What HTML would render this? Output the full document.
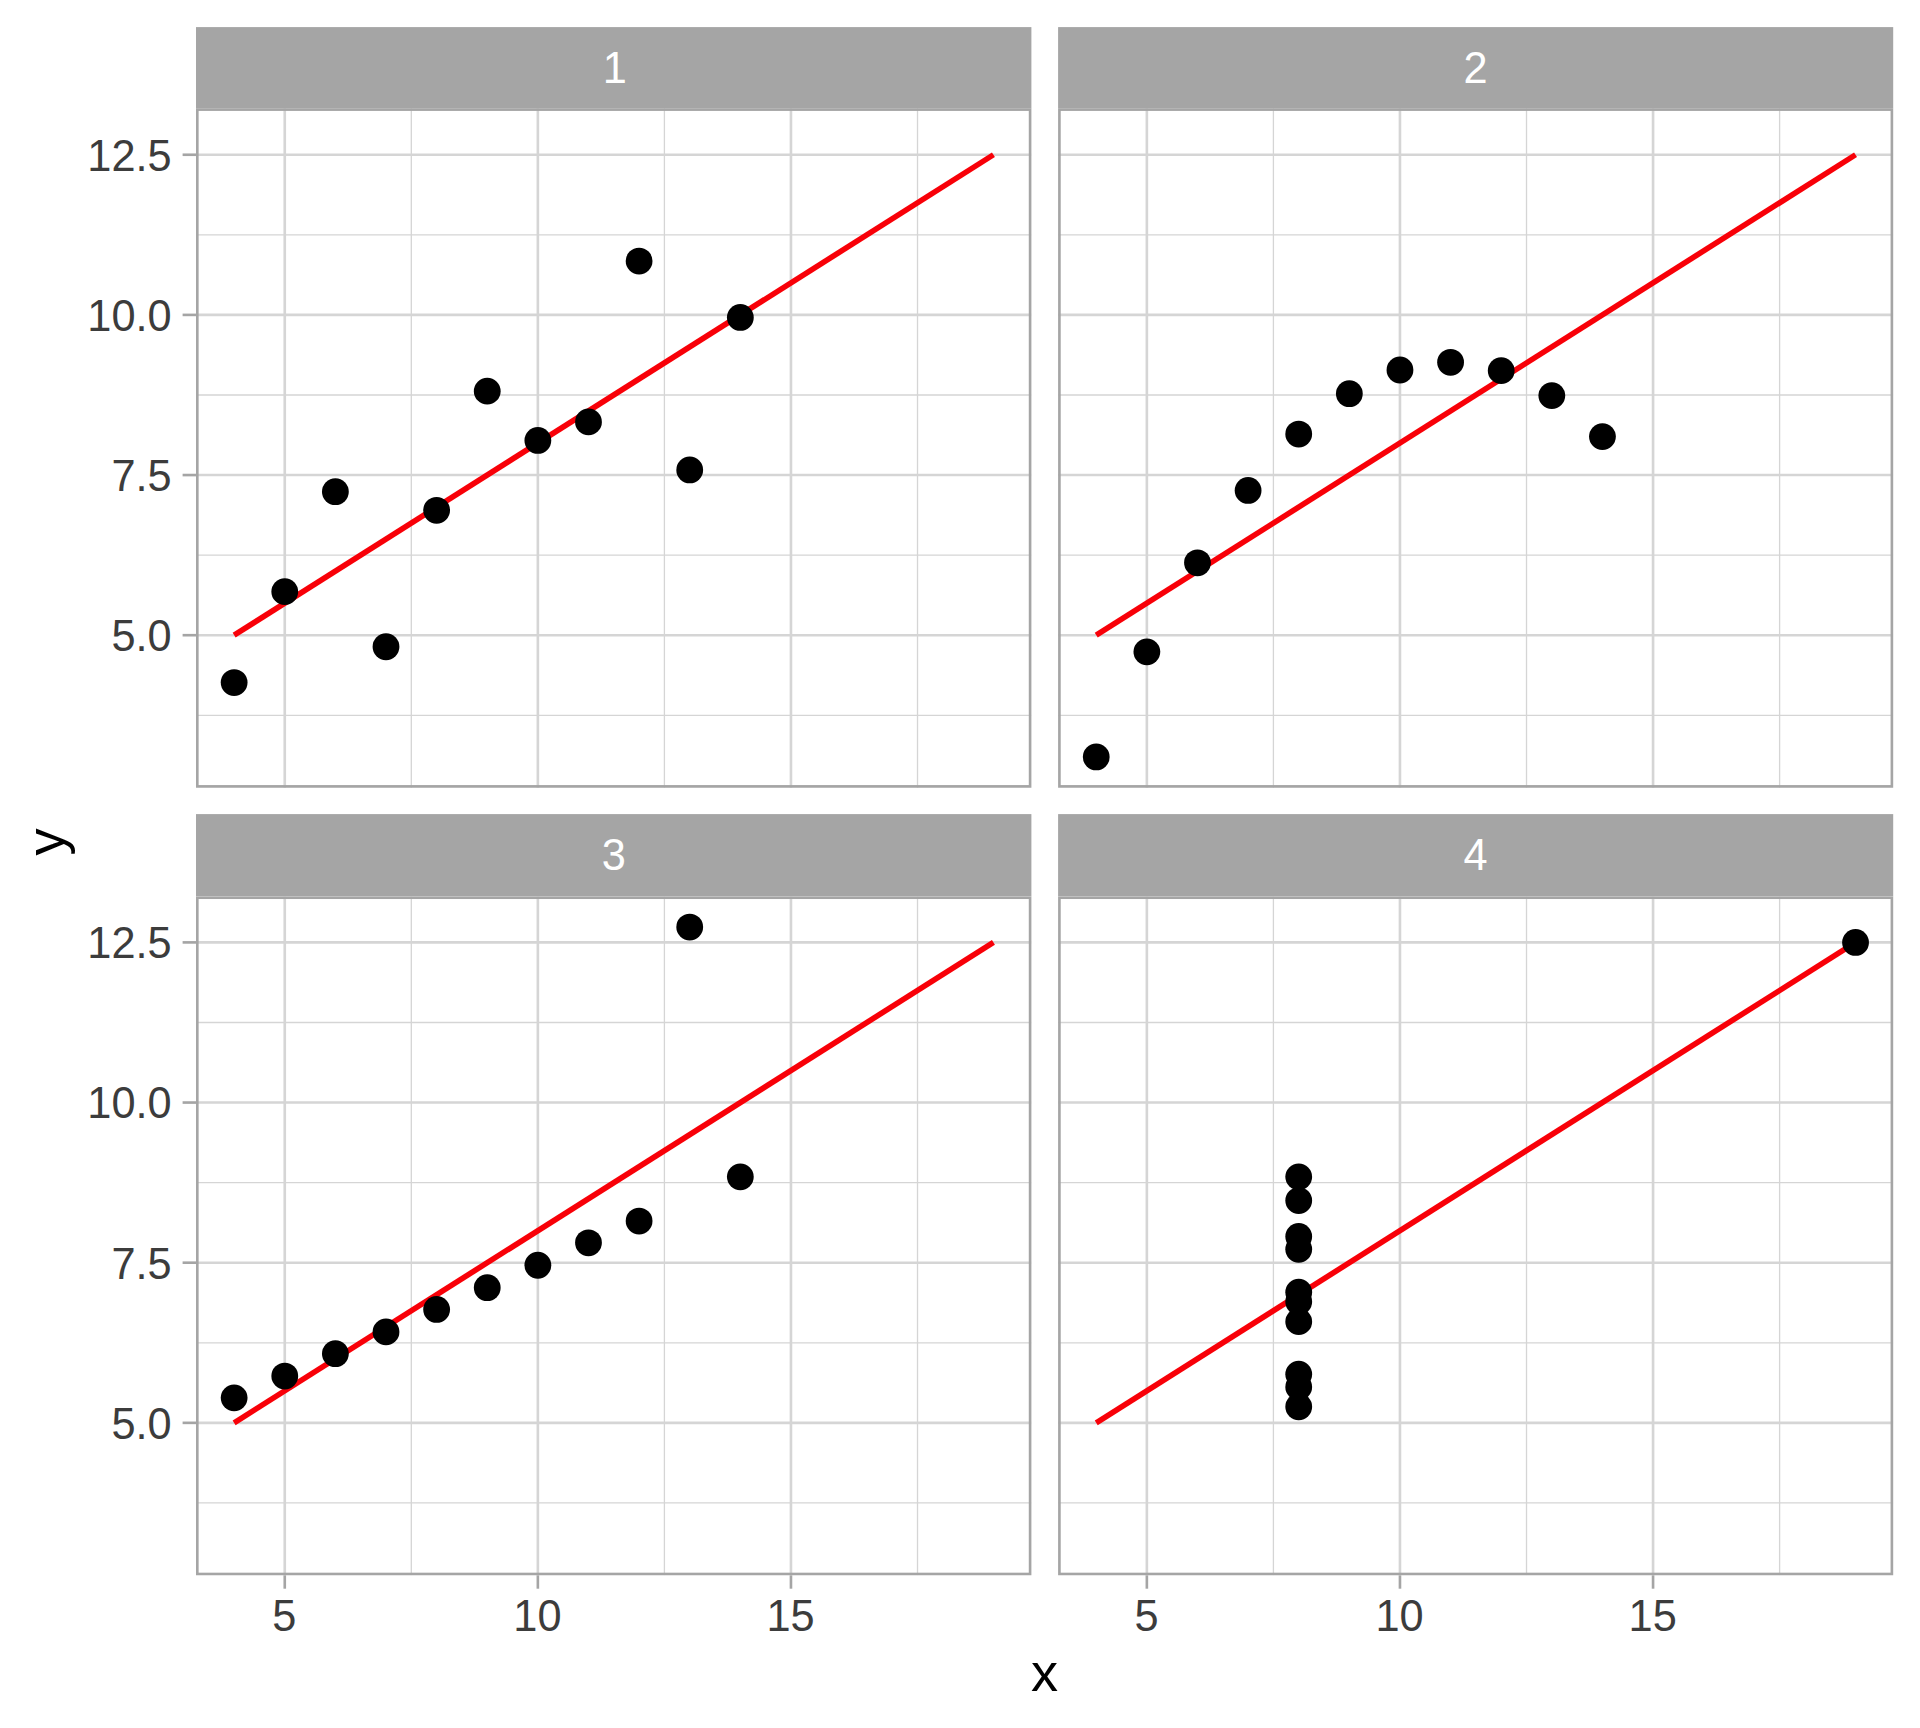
<!DOCTYPE html>
<html lang="en">
<head>
<meta charset="utf-8">
<title>Anscombe quartet</title>
<style>
html,body{margin:0;padding:0;background:#fff;}
body{width:1920px;height:1728px;overflow:hidden;}
svg{display:block;}
</style>
</head>
<body>
<svg width="1920" height="1728" viewBox="0 0 1920 1728" font-family="'Liberation Sans', sans-serif">
<rect width="1920" height="1728" fill="#fff"/>
<defs>
<clipPath id="c1"><rect x="196" y="108.3" width="835.4" height="679.4"/></clipPath>
<clipPath id="c2"><rect x="1058.1" y="108.3" width="835.1" height="679.4"/></clipPath>
<clipPath id="c3"><rect x="196" y="896.4" width="835.4" height="678.9"/></clipPath>
<clipPath id="c4"><rect x="1058.1" y="896.4" width="835.1" height="678.9"/></clipPath>
</defs>
<g clip-path="url(#c1)">
<g stroke="#D5D5D5" stroke-width="1.31">
<line x1="196" x2="1031.4" y1="715.28" y2="715.28"/>
<line x1="196" x2="1031.4" y1="555.12" y2="555.12"/>
<line x1="196" x2="1031.4" y1="394.98" y2="394.98"/>
<line x1="196" x2="1031.4" y1="234.83" y2="234.83"/>
<line y1="108.3" y2="787.7" x1="411.31" x2="411.31"/>
<line y1="108.3" y2="787.7" x1="664.41" x2="664.41"/>
<line y1="108.3" y2="787.7" x1="917.51" x2="917.51"/>
</g>
<g stroke="#D5D5D5" stroke-width="2.63">
<line x1="196" x2="1031.4" y1="635.2" y2="635.2"/>
<line x1="196" x2="1031.4" y1="475.05" y2="475.05"/>
<line x1="196" x2="1031.4" y1="314.9" y2="314.9"/>
<line x1="196" x2="1031.4" y1="154.75" y2="154.75"/>
<line y1="108.3" y2="787.7" x1="284.76" x2="284.76"/>
<line y1="108.3" y2="787.7" x1="537.86" x2="537.86"/>
<line y1="108.3" y2="787.7" x1="790.96" x2="790.96"/>
</g>
<line x1="234.14" y1="635.2" x2="993.44" y2="154.75" stroke="#F80008" stroke-width="5.6"/>
<g fill="#000">
<circle cx="537.86" cy="440.46" r="13.4"/>
<circle cx="436.62" cy="510.28" r="13.4"/>
<circle cx="689.72" cy="469.93" r="13.4"/>
<circle cx="487.24" cy="391.13" r="13.4"/>
<circle cx="588.48" cy="421.88" r="13.4"/>
<circle cx="740.34" cy="317.46" r="13.4"/>
<circle cx="335.38" cy="491.71" r="13.4"/>
<circle cx="234.14" cy="682.6" r="13.4"/>
<circle cx="639.1" cy="261.09" r="13.4"/>
<circle cx="386" cy="646.73" r="13.4"/>
<circle cx="284.76" cy="591.64" r="13.4"/>
</g>
<rect x="196" y="108.3" width="835.4" height="679.4" fill="none" stroke="#A5A5A5" stroke-width="5.25"/>
</g>
<g clip-path="url(#c2)">
<g stroke="#D5D5D5" stroke-width="1.31">
<line x1="1058.1" x2="1893.2" y1="715.28" y2="715.28"/>
<line x1="1058.1" x2="1893.2" y1="555.12" y2="555.12"/>
<line x1="1058.1" x2="1893.2" y1="394.98" y2="394.98"/>
<line x1="1058.1" x2="1893.2" y1="234.83" y2="234.83"/>
<line y1="108.3" y2="787.7" x1="1273.41" x2="1273.41"/>
<line y1="108.3" y2="787.7" x1="1526.51" x2="1526.51"/>
<line y1="108.3" y2="787.7" x1="1779.61" x2="1779.61"/>
</g>
<g stroke="#D5D5D5" stroke-width="2.63">
<line x1="1058.1" x2="1893.2" y1="635.2" y2="635.2"/>
<line x1="1058.1" x2="1893.2" y1="475.05" y2="475.05"/>
<line x1="1058.1" x2="1893.2" y1="314.9" y2="314.9"/>
<line x1="1058.1" x2="1893.2" y1="154.75" y2="154.75"/>
<line y1="108.3" y2="787.7" x1="1146.86" x2="1146.86"/>
<line y1="108.3" y2="787.7" x1="1399.96" x2="1399.96"/>
<line y1="108.3" y2="787.7" x1="1653.06" x2="1653.06"/>
</g>
<line x1="1096.24" y1="635.2" x2="1855.54" y2="154.75" stroke="#F80008" stroke-width="5.6"/>
<g fill="#000">
<circle cx="1399.96" cy="369.99" r="13.4"/>
<circle cx="1298.72" cy="434.05" r="13.4"/>
<circle cx="1551.82" cy="395.62" r="13.4"/>
<circle cx="1349.34" cy="393.69" r="13.4"/>
<circle cx="1450.58" cy="362.3" r="13.4"/>
<circle cx="1602.44" cy="436.61" r="13.4"/>
<circle cx="1197.48" cy="562.81" r="13.4"/>
<circle cx="1096.24" cy="756.91" r="13.4"/>
<circle cx="1501.2" cy="370.63" r="13.4"/>
<circle cx="1248.1" cy="490.42" r="13.4"/>
<circle cx="1146.86" cy="651.86" r="13.4"/>
</g>
<rect x="1058.1" y="108.3" width="835.1" height="679.4" fill="none" stroke="#A5A5A5" stroke-width="5.25"/>
</g>
<g clip-path="url(#c3)">
<g stroke="#D5D5D5" stroke-width="1.31">
<line x1="196" x2="1031.4" y1="1502.93" y2="1502.93"/>
<line x1="196" x2="1031.4" y1="1342.78" y2="1342.78"/>
<line x1="196" x2="1031.4" y1="1182.62" y2="1182.62"/>
<line x1="196" x2="1031.4" y1="1022.48" y2="1022.48"/>
<line y1="896.4" y2="1575.3" x1="411.31" x2="411.31"/>
<line y1="896.4" y2="1575.3" x1="664.41" x2="664.41"/>
<line y1="896.4" y2="1575.3" x1="917.51" x2="917.51"/>
</g>
<g stroke="#D5D5D5" stroke-width="2.63">
<line x1="196" x2="1031.4" y1="1422.85" y2="1422.85"/>
<line x1="196" x2="1031.4" y1="1262.7" y2="1262.7"/>
<line x1="196" x2="1031.4" y1="1102.55" y2="1102.55"/>
<line x1="196" x2="1031.4" y1="942.4" y2="942.4"/>
<line y1="896.4" y2="1575.3" x1="284.76" x2="284.76"/>
<line y1="896.4" y2="1575.3" x1="537.86" x2="537.86"/>
<line y1="896.4" y2="1575.3" x1="790.96" x2="790.96"/>
</g>
<line x1="234.14" y1="1422.85" x2="993.44" y2="942.4" stroke="#F80008" stroke-width="5.6"/>
<g fill="#000">
<circle cx="537.86" cy="1265.26" r="13.4"/>
<circle cx="436.62" cy="1309.46" r="13.4"/>
<circle cx="689.72" cy="927.03" r="13.4"/>
<circle cx="487.24" cy="1287.68" r="13.4"/>
<circle cx="588.48" cy="1242.84" r="13.4"/>
<circle cx="740.34" cy="1176.86" r="13.4"/>
<circle cx="335.38" cy="1353.67" r="13.4"/>
<circle cx="234.14" cy="1397.87" r="13.4"/>
<circle cx="639.1" cy="1221.06" r="13.4"/>
<circle cx="386" cy="1331.88" r="13.4"/>
<circle cx="284.76" cy="1376.09" r="13.4"/>
</g>
<rect x="196" y="896.4" width="835.4" height="678.9" fill="none" stroke="#A5A5A5" stroke-width="5.25"/>
</g>
<g clip-path="url(#c4)">
<g stroke="#D5D5D5" stroke-width="1.31">
<line x1="1058.1" x2="1893.2" y1="1502.93" y2="1502.93"/>
<line x1="1058.1" x2="1893.2" y1="1342.78" y2="1342.78"/>
<line x1="1058.1" x2="1893.2" y1="1182.62" y2="1182.62"/>
<line x1="1058.1" x2="1893.2" y1="1022.48" y2="1022.48"/>
<line y1="896.4" y2="1575.3" x1="1273.41" x2="1273.41"/>
<line y1="896.4" y2="1575.3" x1="1526.51" x2="1526.51"/>
<line y1="896.4" y2="1575.3" x1="1779.61" x2="1779.61"/>
</g>
<g stroke="#D5D5D5" stroke-width="2.63">
<line x1="1058.1" x2="1893.2" y1="1422.85" y2="1422.85"/>
<line x1="1058.1" x2="1893.2" y1="1262.7" y2="1262.7"/>
<line x1="1058.1" x2="1893.2" y1="1102.55" y2="1102.55"/>
<line x1="1058.1" x2="1893.2" y1="942.4" y2="942.4"/>
<line y1="896.4" y2="1575.3" x1="1146.86" x2="1146.86"/>
<line y1="896.4" y2="1575.3" x1="1399.96" x2="1399.96"/>
<line y1="896.4" y2="1575.3" x1="1653.06" x2="1653.06"/>
</g>
<line x1="1096.24" y1="1422.85" x2="1855.54" y2="942.4" stroke="#F80008" stroke-width="5.6"/>
<g fill="#000">
<circle cx="1298.72" cy="1321.64" r="13.4"/>
<circle cx="1298.72" cy="1374.16" r="13.4"/>
<circle cx="1298.72" cy="1249.25" r="13.4"/>
<circle cx="1298.72" cy="1176.86" r="13.4"/>
<circle cx="1298.72" cy="1200.56" r="13.4"/>
<circle cx="1298.72" cy="1292.17" r="13.4"/>
<circle cx="1298.72" cy="1406.84" r="13.4"/>
<circle cx="1855.54" cy="942.4" r="13.4"/>
<circle cx="1298.72" cy="1386.98" r="13.4"/>
<circle cx="1298.72" cy="1236.44" r="13.4"/>
<circle cx="1298.72" cy="1301.78" r="13.4"/>
</g>
<rect x="1058.1" y="896.4" width="835.1" height="678.9" fill="none" stroke="#A5A5A5" stroke-width="5.25"/>
</g>
<rect x="196" y="27.1" width="835.4" height="81.2" fill="#A5A5A5"/>
<text transform="translate(614.7 83.2) scale(1 1.04)" font-size="43.33" fill="#fff" text-anchor="middle">1</text>
<rect x="1058.1" y="27.1" width="835.1" height="81.2" fill="#A5A5A5"/>
<text transform="translate(1475.65 83.2) scale(1 1.04)" font-size="43.33" fill="#fff" text-anchor="middle">2</text>
<rect x="196" y="814.1" width="835.4" height="82.3" fill="#A5A5A5"/>
<text transform="translate(613.7 870.2) scale(1 1.04)" font-size="43.33" fill="#fff" text-anchor="middle">3</text>
<rect x="1058.1" y="814.1" width="835.1" height="82.3" fill="#A5A5A5"/>
<text transform="translate(1475.65 870.2) scale(1 1.04)" font-size="43.33" fill="#fff" text-anchor="middle">4</text>
<g stroke="#A5A5A5" stroke-width="2.63">
<line x1="182.6" x2="196" y1="635.2" y2="635.2"/>
<line x1="182.6" x2="196" y1="475.05" y2="475.05"/>
<line x1="182.6" x2="196" y1="314.9" y2="314.9"/>
<line x1="182.6" x2="196" y1="154.75" y2="154.75"/>
<line x1="182.6" x2="196" y1="1422.85" y2="1422.85"/>
<line x1="182.6" x2="196" y1="1262.7" y2="1262.7"/>
<line x1="182.6" x2="196" y1="1102.55" y2="1102.55"/>
<line x1="182.6" x2="196" y1="942.4" y2="942.4"/>
<line y1="1575.3" y2="1588.7" x1="284.76" x2="284.76"/>
<line y1="1575.3" y2="1588.7" x1="537.86" x2="537.86"/>
<line y1="1575.3" y2="1588.7" x1="790.96" x2="790.96"/>
<line y1="1575.3" y2="1588.7" x1="1146.86" x2="1146.86"/>
<line y1="1575.3" y2="1588.7" x1="1399.96" x2="1399.96"/>
<line y1="1575.3" y2="1588.7" x1="1653.06" x2="1653.06"/>
</g>
<g font-size="43.33" fill="#3C3C3C">
<text transform="translate(171.6 651) scale(1 1.04)" text-anchor="end">5.0</text>
<text transform="translate(171.6 490.85) scale(1 1.04)" text-anchor="end">7.5</text>
<text transform="translate(171.6 330.7) scale(1 1.04)" text-anchor="end">10.0</text>
<text transform="translate(171.6 170.55) scale(1 1.04)" text-anchor="end">12.5</text>
<text transform="translate(171.6 1438.65) scale(1 1.04)" text-anchor="end">5.0</text>
<text transform="translate(171.6 1278.5) scale(1 1.04)" text-anchor="end">7.5</text>
<text transform="translate(171.6 1118.35) scale(1 1.04)" text-anchor="end">10.0</text>
<text transform="translate(171.6 958.2) scale(1 1.04)" text-anchor="end">12.5</text>
<text transform="translate(284.36 1630.8) scale(1 1.04)" text-anchor="middle">5</text>
<text transform="translate(537.46 1630.8) scale(1 1.04)" text-anchor="middle">10</text>
<text transform="translate(790.56 1630.8) scale(1 1.04)" text-anchor="middle">15</text>
<text transform="translate(1146.46 1630.8) scale(1 1.04)" text-anchor="middle">5</text>
<text transform="translate(1399.56 1630.8) scale(1 1.04)" text-anchor="middle">10</text>
<text transform="translate(1652.66 1630.8) scale(1 1.04)" text-anchor="middle">15</text>
</g>
<text x="1044.5" y="1691" font-size="54.17" fill="#000" text-anchor="middle">x</text>
<text transform="translate(64 842) rotate(-90)" font-size="54.17" fill="#000" text-anchor="middle">y</text>
</svg>
</body>
</html>
